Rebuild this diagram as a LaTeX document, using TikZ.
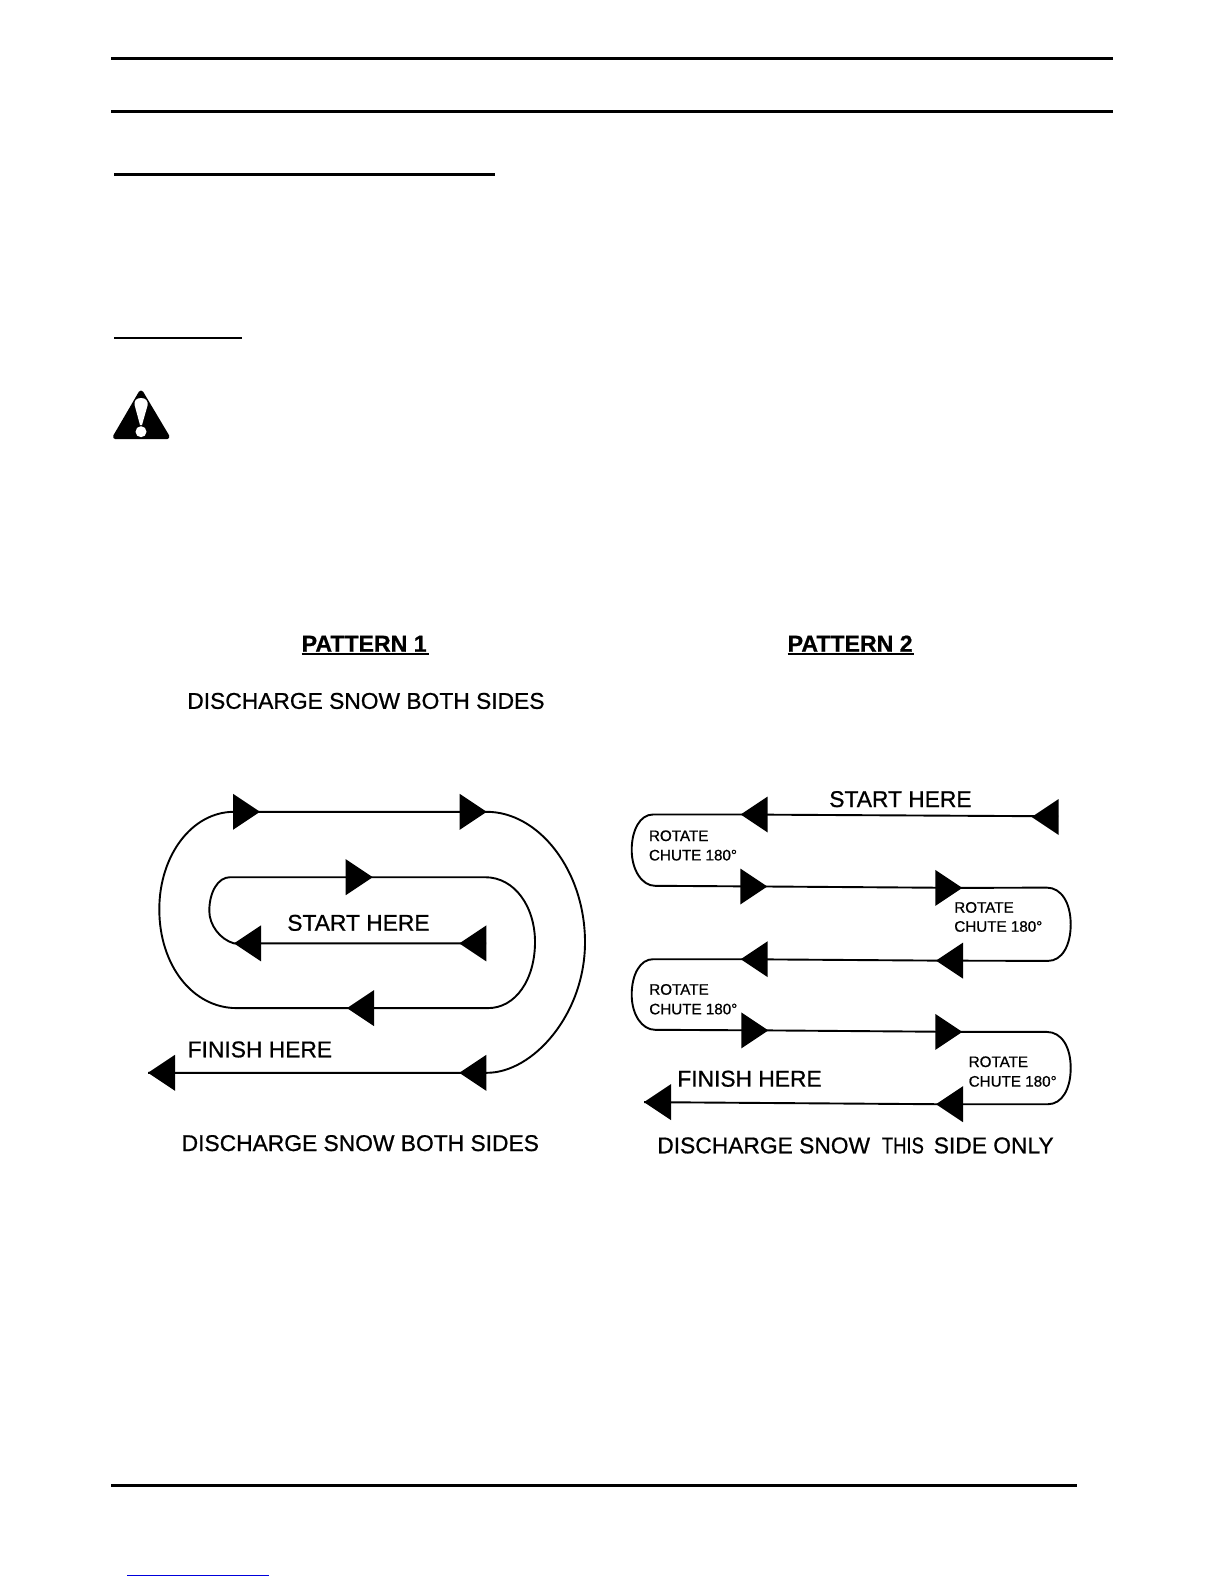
\documentclass[tikz,border=0pt]{standalone}
\usepackage{fontspec}
\usepackage{graphicx}
\setmainfont{Liberation Sans}
\newfontfamily\scanfont[FakeBold=0.8]{Liberation Sans}
\newfontfamily\headfont[FakeBold=0.8]{Liberation Sans Bold}
\usetikzlibrary{calc}
\tikzset{
  rule/.style={line width=3pt,draw=black},
  thinrule/.style={line width=2pt,draw=black},
  track/.style={line width=1.9pt,draw=black},
  lbl/.style={anchor=base west,inner sep=0pt,outer sep=0pt,font=\scanfont\fontsize{22.8}{26}\selectfont},
  small/.style={anchor=base west,inner sep=0pt,outer sep=0pt,align=left,font=\scanfont\fontsize{15.2}{18}\selectfont},
  head/.style={anchor=base west,inner sep=0pt,outer sep=0pt,font=\headfont\fontsize{23.1}{26}\selectfont},
}
% arrowheads: the named coordinate is the tip
\newcommand{\headR}[1]{\fill[black] (#1) -- ++(-27,-18) -- ++(0,36) -- cycle;}
\newcommand{\headL}[1]{\fill[black] (#1) -- ++(27,-18) -- ++(0,36) -- cycle;}
\begin{document}
\begin{tikzpicture}[x=1pt,y=-1pt]
\useasboundingbox (0,0) rectangle (1225,1585);
\fill[white] (0,0) rectangle (1225,1585);

% page rules
\coordinate (r1a) at (111,58.3);  \coordinate (r1b) at (1113,58.3);
\coordinate (r2a) at (111,111.3); \coordinate (r2b) at (1113,111.3);
\coordinate (r3a) at (114,174.3); \coordinate (r3b) at (495,174.3);
\coordinate (r4a) at (114,337.7); \coordinate (r4b) at (242,337.7);
\coordinate (r5a) at (111,1485.3);\coordinate (r5b) at (1077,1485.3);
\coordinate (r6a) at (127,1575);  \coordinate (r6b) at (269,1575);
\draw[rule] (r1a) -- (r1b);
\draw[rule] (r2a) -- (r2b);
\draw[rule] (r3a) -- (r3b);
\draw[thinrule] (r4a) -- (r4b);
\draw[rule] (r5a) -- (r5b);
\draw[line width=1pt,draw={rgb,255:red,0;green,0;blue,220}] (r6a) -- (r6b);

% warning sign
\fill[black,draw=black,line width=5pt,line join=round] (141,393) -- (167,436.7) -- (115.5,436.7) -- cycle;
\fill[white] (141,398) .. controls (146,398) and (148,401) .. (147.7,405) -- (142,425) -- (140,425) -- (134.6,405) .. controls (134,401) and (136,398) .. (141,398) -- cycle;
\fill[white] (141,431.7) circle (5.5);

% ---- Pattern 1 ----
\node[head] (p1t) at (301.7,651.7) {PATTERN 1};
\coordinate (p1ua) at (301.7,653.7); \coordinate (p1ub) at (429,653.7);
\draw[line width=1.6pt] (p1ua) -- (p1ub);
\node[lbl] (p1d1) at (187.3,708.8) {DISCHARGE SNOW BOTH SIDES};
\node[lbl] (p1s) at (287.3,930.7) {START HERE};
\node[lbl] (p1f) at (187.7,1057.3) {FINISH HERE};
\node[lbl] (p1d2) at (181.7,1151) {DISCHARGE SNOW BOTH SIDES};

\coordinate (a1) at (459.3,943.4);
\coordinate (a1b) at (486,943.4);
\coordinate (a2) at (234,943.4);
\coordinate (a3l) at (230,877.2);
\coordinate (a3) at (372.7,877.2);
\coordinate (a3r) at (485,877.2);
\coordinate (a4r) at (488,1008.1);
\coordinate (a4) at (347,1008.1);
\coordinate (a4l) at (236.7,1008.1);
\coordinate (a5) at (260,811.8);
\coordinate (a5l) at (234,811.8);
\coordinate (a6) at (486.7,811.8);
\coordinate (a7r) at (487,1072.8);
\coordinate (a7) at (459.3,1072.8);
\coordinate (a8) at (148,1072.8);
\coordinate (xi1) at (209.3,911);
\coordinate (xi2) at (535,942);
\coordinate (xo1) at (159.3,909.3);
\coordinate (xo2) at (585,942.3);

\draw[track] (a1b) -- (a2)
  .. controls +(-14,-4) and +(0,14) .. (xi1)
  .. controls +(0,-19) and +(-12,0) .. (a3l)
  -- (a3r)
  .. controls +(30,0) and +(0,-35) .. (xi2)
  .. controls +(0,37) and +(28,0) .. (a4r)
  -- (a4l)
  .. controls +(-44,0) and +(0,56) .. (xo1)
  .. controls +(0,-54) and +(-42,0) .. (a5l)
  -- (a6)
  .. controls +(52,0) and +(0,-72) .. (xo2)
  .. controls +(0,72) and +(46,0) .. (a7r)
  -- (a8);
\headL{a1} \headL{a2} \headR{a3} \headL{a4} \headR{a5} \headR{a6} \headL{a7} \headL{a8}

% ---- Pattern 2 ----
\node[head] (p2t) at (787.7,651.7) {PATTERN 2};
\coordinate (p2ua) at (787.7,653.7); \coordinate (p2ub) at (914,653.7);
\draw[line width=1.6pt] (p2ua) -- (p2ub);
\node[lbl] (p2s) at (829.3,807) {START HERE};
\node[lbl] (p2f) at (677.3,1086.6) {FINISH HERE};
\node[lbl] (p2d) at (657.3,1153.3) {DISCHARGE SNOW\hspace{5.4pt} \scalebox{0.81}[1]{THIS}\hspace{3.5pt} SIDE ONLY};
\node[small] (r1) at (649,841) {ROTATE};
\node[small] (c1) at (649,860.4) {CHUTE 180°};
\node[small] (r2) at (954.3,912.7) {ROTATE};
\node[small] (c2) at (954.3,931.7) {CHUTE 180°};
\node[small] (r3) at (649.3,994.7) {ROTATE};
\node[small] (c3) at (649.3,1014.3) {CHUTE 180°};
\node[small] (r4) at (968.7,1067) {ROTATE};
\node[small] (c4) at (968.7,1086.6) {CHUTE 180°};

\coordinate (b1b) at (1058,816.3);
\coordinate (b1) at (1031.7,817);
\coordinate (b2) at (740.7,814.5);
\coordinate (b2l) at (653,814.5);
\coordinate (l1) at (631.7,850);
\coordinate (b3l) at (655,885.8);
\coordinate (b3) at (767.3,886.5);
\coordinate (b4) at (962.3,887.9);
\coordinate (b4r) at (1046.7,887.6);
\coordinate (r1x) at (1070.7,924.4);
\coordinate (b5r) at (1048,960.9);
\coordinate (b5) at (936,960.6);
\coordinate (b6) at (740.7,959.2);
\coordinate (b6l) at (653,959.2);
\coordinate (l2) at (631.7,994.7);
\coordinate (b7l) at (655,1029.8);
\coordinate (b7) at (768.3,1030.4);
\coordinate (b8) at (962.3,1031.9);
\coordinate (b8r) at (1046.7,1031.9);
\coordinate (r2x) at (1070.7,1068);
\coordinate (b9r) at (1048,1104.2);
\coordinate (b9) at (936,1104.2);
\coordinate (b10) at (644,1102.1);

\draw[track] (b1b) -- (b2) -- (b2l)
  .. controls +(-13,0) and +(0,-20) .. (l1)
  .. controls +(0,20) and +(-13,0) .. (b3l)
  -- (b3) -- (b4) -- (b4r)
  .. controls +(15,0) and +(0,-21) .. (r1x)
  .. controls +(0,21) and +(14,0) .. (b5r)
  -- (b5) -- (b6) -- (b6l)
  .. controls +(-13,0) and +(0,-20) .. (l2)
  .. controls +(0,20) and +(-13,0) .. (b7l)
  -- (b7) -- (b8) -- (b8r)
  .. controls +(15,0) and +(0,-21) .. (r2x)
  .. controls +(0,21) and +(14,0) .. (b9r)
  -- (b9) -- (b10);
\headL{b1} \headL{b2} \headR{b3} \headR{b4} \headL{b5} \headL{b6} \headR{b7} \headR{b8} \headL{b9} \headL{b10}
\end{tikzpicture}
\end{document}
